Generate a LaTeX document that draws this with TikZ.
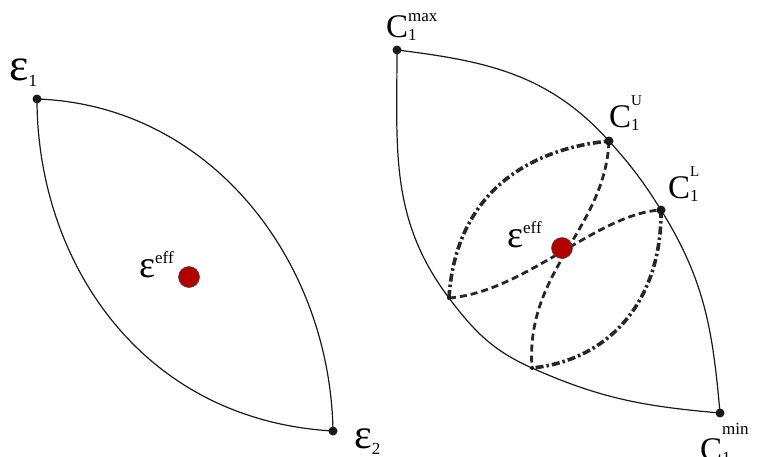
\documentclass[tikz,border=0pt]{standalone}
\usepackage{fontspec}
\setmainfont{Liberation Serif}
\newcommand{\LabelText}[6]{{\fontsize{#1}{#1}\selectfont #2}\rlap{\raisebox{#3}{\fontsize{#4}{#4}\selectfont #5}}\raisebox{-3pt}{\fontsize{17}{17}\selectfont #6}}
\tikzset{
  outline/.style={line width=1.2pt, black!90},
  dashline/.style={line width=2.8pt, black!85, dash pattern=on 7pt off 4pt},
  dotdashline/.style={line width=3.6pt, black!85, dash pattern=on 8pt off 3pt on 2.5pt off 3pt},
  bigdot/.style={circle, fill=black!90, inner sep=0pt, minimum size=9pt},
  smalldot/.style={circle, fill=black!90, inner sep=0pt, minimum size=4pt},
  reddot/.style={circle, fill=red!70!black, draw=black!70, line width=0.6pt, inner sep=0pt, minimum size=21pt},
  lbl/.style={anchor=base west, inner sep=0pt}
}
\begin{document}
\begin{tikzpicture}[x=1pt,y=1pt]
\useasboundingbox (0,0) rectangle (763,-456);
% points
\coordinate (e1) at (37,-99);
\coordinate (e2) at (333,-431);
\coordinate (cmax) at (397,-50);
\coordinate (cu) at (609,-141);
\coordinate (cl) at (661,-210);
\coordinate (cmin) at (720,-413);
\coordinate (pa) at (449,-298);
\coordinate (pb) at (532,-368);
% left lens
\draw[outline] (e1) .. controls (37,-260) and (140,-420) .. (e2);
\draw[outline] (e1) .. controls (210,-105) and (330,-260) .. (e2);
% right lens
\draw[outline] (cmax) to[out=-90,in=127] (pa) to[out=-53,in=156] (pb) to[out=-24,in=175] (cmin);
\draw[outline] (cmax) to[out=-7,in=132] (cu) to[out=-48,in=122] (cl) to[out=-58,in=95] (cmin);
% inner curves
\draw[dashline] (pa) .. controls (525,-292) and (598,-213) .. (cl);
\draw[dashline] (cu) .. controls (605,-230) and (525,-270) .. (pb);
\draw[dotdashline] (pa) .. controls (455,-200) and (520,-150) .. (cu);
\draw[dotdashline] (cl) .. controls (662,-300) and (610,-360) .. (pb);
% dots
\node[bigdot] (de1) at (e1) {};
\node[bigdot] (de2) at (e2) {};
\node[bigdot] (dmax) at (cmax) {};
\node[bigdot] (du) at (cu) {};
\node[bigdot] (dl) at (cl) {};
\node[bigdot] (dmin) at (cmin) {};
\node[smalldot] (dpa) at (pa) {};
\node[smalldot] (dpb) at (pb) {};
\node[reddot] (effL) at (189,-277) {};
\node[reddot] (effR) at (562,-248) {};
% labels
\node[lbl] (le1) at (9,-80) {\LabelText{46}{ε}{0pt}{15}{}{\raisebox{-3pt}{1}}};
\node[lbl] (le2) at (354,-448) {\LabelText{42}{ε}{0pt}{15}{}{\raisebox{-3pt}{2}}};
\node[lbl] (leffL) at (139,-277) {\LabelText{38}{ε}{14pt}{17}{eff}{}};
\node[lbl] (leffR) at (507,-247) {\LabelText{38}{ε}{14pt}{17}{eff}{}};
\node[lbl] (lmax) at (386,-37) {\LabelText{33}{C}{16pt}{17}{max}{1}};
\node[lbl] (lu) at (609,-127) {\LabelText{33}{C}{22pt}{15}{U}{1}};
\node[lbl] (ll) at (668,-198) {\LabelText{33}{C}{22pt}{15}{L}{1}};
\node[lbl] (lmin) at (700,-460) {\LabelText{33}{C}{26pt}{17}{min}{1}};
\end{tikzpicture}
\end{document}
